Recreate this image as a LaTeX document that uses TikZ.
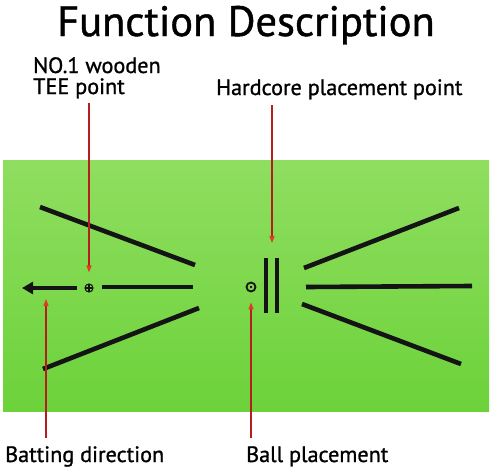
\documentclass[tikz,border=0pt]{standalone}
\usepackage{fontspec}
\setmainfont[FakeBold=1.0]{PT Sans}
\usetikzlibrary{arrows.meta}
\definecolor{matTop}{RGB}{144,222,96}
\definecolor{matBot}{RGB}{108,210,58}
\definecolor{redline}{RGB}{180,30,30}
\definecolor{redtip}{RGB}{225,60,30}
\definecolor{ink}{RGB}{20,20,20}
\tikzset{
  mark line/.style={line width=4.6pt, draw=ink},
  bar line/.style={line width=3.8pt, draw=ink},
  label text/.style={font=\fontsize{22.2}{24}\selectfont, anchor=base west, inner sep=0pt, text=black},
  pointer/.style={draw=redline, line width=1.1pt, -{Triangle[length=7pt,width=5pt,color=redtip]}},
  teemark/.style={circle, draw=ink, line width=1.1pt, minimum size=8pt, inner sep=0pt,
     path picture={\draw[ink,line width=1.1pt] (path picture bounding box.north) -- (path picture bounding box.south)
                    (path picture bounding box.west) -- (path picture bounding box.east);}},
  ballmark/.style={circle, draw=ink, line width=1.8pt, minimum size=9pt, inner sep=0pt,
     path picture={\fill[ink] (path picture bounding box.center) circle (1.3pt);}}
}
\begin{document}
\begin{tikzpicture}[x=1pt,y=-1pt]
\useasboundingbox (0,0) rectangle (492,471);
\fill[white] (0,0) rectangle (492,471);
% mat
\shade[top color=matTop, bottom color=matBot] (3,160) rectangle (489,411);
% title
\node[font=\fontsize{42.5}{45}\selectfont, anchor=base, inner sep=0pt] (title) at (246,36) {Function Description};
% left markings
\draw[mark line] (40,207) -- (195,265);
\draw[mark line] (43,369) -- (199,308);
\coordinate (arrowtip) at (22,288);
\coordinate (arrowend) at (77,288);
\draw[mark line, {Triangle[length=11pt,width=12pt]}-] (arrowtip) -- (arrowend);
\node[teemark] (tee) at (89,288) {};
\draw[mark line] (102,287) -- (193,287);
% centre
\node[ballmark] (ball) at (251,287) {};
\draw[bar line] (266,258) -- (266,313);
\draw[bar line] (277,258) -- (277,313);
\coordinate (bars) at (272,258);
\coordinate (shaft) at (46,290);
% right markings
\draw[mark line] (304,268) -- (459,208);
\draw[mark line] (306,287) -- (472,286);
\draw[mark line] (302,304) -- (461,364);
% labels
\node[label text] (teeA) at (33,73) {NO.1 wooden};
\node[label text] (teeB) at (33,94) {TEE point};
\node[label text] (hard) at (216,95) {Hardcore placement point};
\node[label text] (bat) at (5,462) {Batting direction};
\node[label text] (ballt) at (246,462) {Ball placement};
% pointers
\coordinate (p1) at (89,103);
\coordinate (p2) at (272,105);
\coordinate (p3) at (46,438);
\coordinate (p4) at (251,438);
\draw[pointer] (p1) -- ([yshift=11pt]tee.north);
\draw[pointer] (p2) -- ([yshift=15pt]bars);
\draw[pointer] (p3) -- ([yshift=-9pt]shaft);
\draw[pointer] (p4) -- ([yshift=-10pt]ball.south);
\end{tikzpicture}
\end{document}
